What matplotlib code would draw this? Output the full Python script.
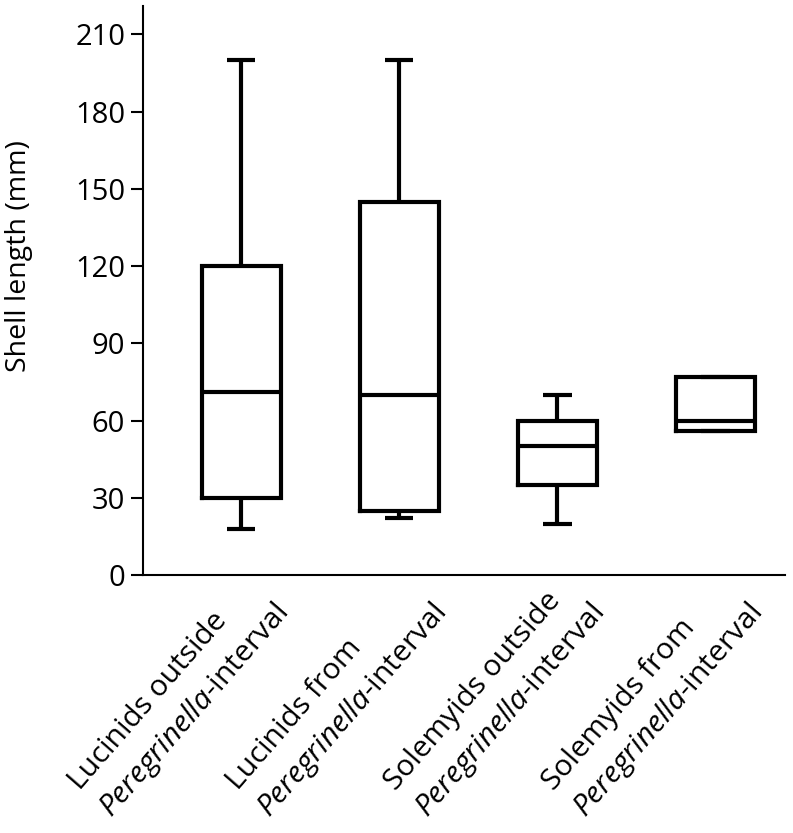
import matplotlib
matplotlib.use("Agg")
import matplotlib.pyplot as plt
from matplotlib.transforms import offset_copy

# ---- data ----
group_names = ["Lucinids outside", "Lucinids from", "Solemyids outside", "Solemyids from"]
interval_name = "Peregrinella"
whisker_low = [18, 22, 20, 56]
quartile1 = [30, 25, 35, 56]
medians = [71, 70, 50, 60]
quartile3 = [120, 145, 60, 77]
whisker_high = [200, 200, 70, 77]
y_ticks = [0, 30, 60, 90, 120, 150, 180, 210]
y_label = "Shell length (mm)"

plt.rcParams['font.family'] = ['Open Sans', 'DejaVu Sans']
plt.rcParams['mathtext.fontset'] = 'custom'
plt.rcParams['mathtext.rm'] = 'Open Sans'
plt.rcParams['mathtext.it'] = 'Open Sans:italic'

fig = plt.figure(figsize=(7.93, 8.33), dpi=100)
ax = fig.add_axes([0.1807, 0.3097, 0.809, 0.683])

stats = []
for i in range(len(group_names)):
    stats.append(dict(med=medians[i], q1=quartile1[i], q3=quartile3[i],
                      whislo=whisker_low[i], whishi=whisker_high[i], fliers=[]))

positions = list(range(1, len(stats) + 1))
lw = 3.0
ax.bxp(stats, positions=positions, widths=0.5, capwidths=0.18, showfliers=False,
       boxprops=dict(color='black', linewidth=lw, solid_joinstyle='miter'),
       medianprops=dict(color='black', linewidth=lw, solid_capstyle='butt'),
       whiskerprops=dict(color='black', linewidth=lw, solid_capstyle='butt'),
       capprops=dict(color='black', linewidth=lw, solid_capstyle='butt'))

ax.set_xlim(0.38, 4.44)
ax.set_ylim(0, 221)
ax.set_yticks(y_ticks)
ax.set_yticklabels([str(t) for t in y_ticks], fontsize=21)

ax.set_xticks(positions)
ax.set_xticklabels([])
label_trans = offset_copy(ax.get_xaxis_transform(), fig=fig, x=0.0, y=3.0, units='dots')
for pos, g in zip(positions, group_names):
    ax.text(pos, 0, f"{g}\n$\\mathit{{{interval_name}}}$-interval",
            transform=label_trans, rotation=49, rotation_mode='anchor',
            ha='right', va='top', multialignment='left', fontsize=21.5,
            linespacing=1.45, clip_on=False)

ax.spines['top'].set_visible(False)
ax.spines['right'].set_visible(False)
ax.spines['left'].set_linewidth(1.5)
ax.spines['bottom'].set_linewidth(1.5)
ax.tick_params(axis='y', length=9, width=1.5, pad=4)
ax.tick_params(axis='x', length=0, pad=2)

ax.set_ylabel(y_label, fontsize=20.5)
ax.yaxis.set_label_coords(-0.172, 0.561)

fig.savefig("out.png", dpi=100)
